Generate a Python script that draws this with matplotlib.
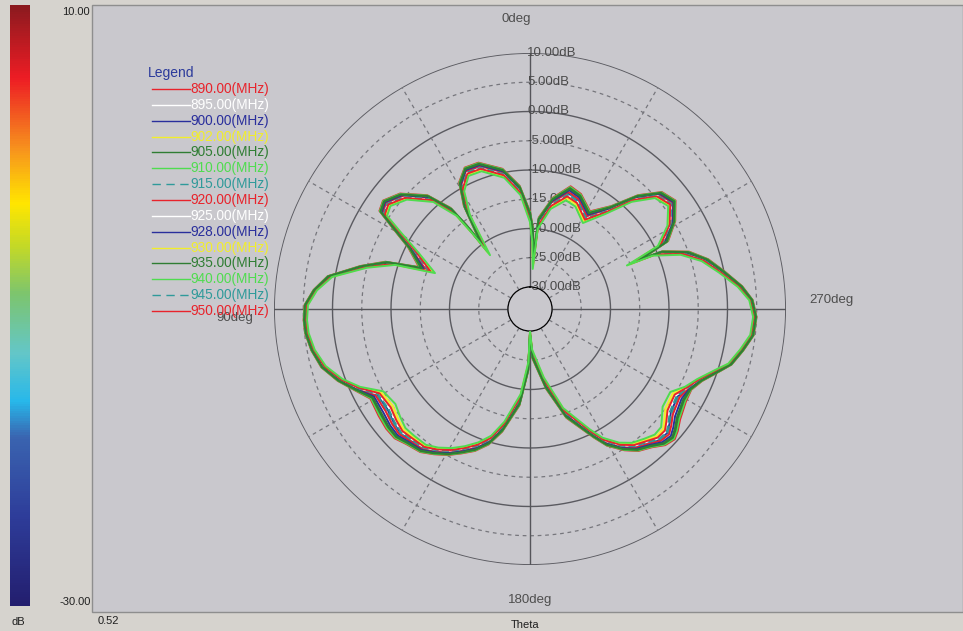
import numpy as np
import matplotlib
matplotlib.use("Agg")
import matplotlib.pyplot as plt
from matplotlib.colors import LinearSegmentedColormap, Normalize
from matplotlib.cm import ScalarMappable
from matplotlib.patches import Rectangle

plt.rcParams['font.family'] = ['Liberation Sans', 'DejaVu Sans']

# pattern: angle (deg, ccw from top) and gain of the middle trace (dB)
theta_deg = [0.0, 4.8, 11.1, 19.4, 24.8, 29.2, 32.6, 36.6, 37.2, 38.2, 42.1, 48.4, 53.6,
             56.9, 59.4, 63.2, 69.3, 71.9, 75.8, 80.8, 85.0, 89.0, 92.8, 96.2, 100.7,
             105.6, 110.5, 114.6, 119.3, 125.2, 129.8, 133.7, 137.5, 142.5, 146.5, 150.7,
             154.6, 158.8, 163.0, 167.2, 173.7, 178.3, 180.0, 183.0, 191.4, 198.5, 206.4,
             209.4, 213.7, 217.3, 221.4, 224.8, 228.0, 230.4, 233.6, 239.4, 243.4, 247.3,
             252.0, 254.6, 259.0, 263.3, 268.0, 272.3, 276.1, 280.9, 285.6, 289.8, 293.5,
             294.2, 296.2, 301.2, 306.7, 311.6, 316.5, 321.7, 328.4, 336.1, 341.7, 348.4,
             354.5, 356.1, 358.0]
gain_db = [-18.0, -13.4, -10.1, -8.0, -7.9, -9.8, -13.7, -20.8, -16.8, -12.6, -8.3, -4.8, -3.3,
           -3.8, -7.3, -11.4, -14.9, -8.6, -4.4, 0.9, 3.1, 4.5, 4.7, 4.6, 4.0,
           2.9, 0.9, -1.2, -3.7, -3.8, -3.3, -3.0, -3.4, -3.7, -4.65, -5.8,
           -7.1, -8.5, -10.3, -13.1, -18.1, -23.9, -29.6, -26.0, -20.8, -15.0, -10.0,
           -7.7, -5.5, -4.1, -3.2, -2.2, -2.0, -2.7, -3.7, -4.3, -3.5, -2.3,
           0.1, 1.7, 3.1, 4.45, 4.7, 4.05, 2.35, -0.35, -2.7, -5.6, -9.9,
           -14.1, -8.4, -5.5, -3.5, -4.4, -7.7, -12.2, -15.3, -13.4, -12.9, -15.3,
           -19.0, -25.4, -21.0]
# how far the traces fan out around the middle one at each angle (dB)
spread_db = [0.9, 0.8, 0.8, 0.8, 0.8, 0.9, 1.0, 1.5, 1.2, 0.9, 0.8, 0.8, 0.8,
             0.8, 0.9, 1.0, 1.5, 0.9, 0.6, 0.4, 0.3, 0.3, 0.3, 0.3, 0.3,
             0.4, 0.45, 0.6, 1.3, 1.8, 1.6, 1.3, 1.0, 0.8, 0.7, 0.7,
             0.7, 0.8, 0.8, 0.9, 1.0, 0.8, 0.3, 0.8, 1.0, 0.9, 0.8,
             0.8, 0.8, 0.9, 1.0, 1.3, 1.6, 1.8, 1.9, 1.6, 0.6, 0.45,
             0.4, 0.3, 0.3, 0.3, 0.3, 0.3, 0.4, 0.5, 0.6, 0.8, 1.0,
             1.5, 1.0, 0.8, 0.8, 0.8, 0.8, 0.9, 1.2, 1.2, 1.3, 1.0,
             1.0, 1.5, 1.3]

freqs = ['890.00', '895.00', '900.00', '902.00', '905.00', '910.00', '915.00', '920.00',
         '925.00', '928.00', '930.00', '935.00', '940.00', '945.00', '950.00']
# where each trace sits inside the fan (-1 inner .. 1 outer)
freq_shift = [0.95, 0.3, -0.1, -0.5, 0.6, 0.85, 0.0, 0.15, -0.3, 0.4, -0.7, 0.7, -1.0, -0.2, -0.45]
line_colors = ['#e8232b', '#ffffff', '#2a2f9c', '#f2ee2a', '#2f7d33', '#4fdc4f', '#2f9a9a',
               '#e8232b', '#ffffff', '#2a2f9c', '#f2ee2a', '#2f7d33', '#4fdc4f', '#2f9a9a',
               '#e8232b']
dashed = [False] * 6 + [True] + [False] * 6 + [True] + [False]

ring_db = [10, 5, 0, -5, -10, -15, -20, -25, -30]

W, H = 963, 631
fig = plt.figure(figsize=(W / 100, H / 100), dpi=100, facecolor='#d6d3ce')

# window background, drawn in pixel units
bg = fig.add_axes([0, 0, 1, 1])
bg.set_xlim(0, W)
bg.set_ylim(H, 0)
bg.axis('off')
bg.add_patch(Rectangle((92, 5), W - 92, 607, fc='#c9c8cd', ec='#8e8e8e', lw=1))
bg.text(62, 12, '10.00', fontsize=8, va='center', color='#202020')
bg.text(59, 602, '-30.00', fontsize=8, va='center', color='#202020')
bg.text(12, 622, 'dB', fontsize=8, va='center', color='#202020')
bg.text(98, 621, '0.52', fontsize=8, va='center', color='#202020')
bg.text(525, 625, 'Theta', fontsize=8, ha='center', va='center', color='#202020')
deg_kw = dict(fontsize=9.5, va='center', color='#4e4e4e')
bg.text(516, 19, '0deg', ha='center', **deg_kw)
bg.text(809, 300, '270deg', **deg_kw)
bg.text(216, 318, '90deg', **deg_kw)
bg.text(530, 600, '180deg', ha='center', **deg_kw)

# colour scale on the left
cmap = LinearSegmentedColormap.from_list('scale', [
    (0.0, '#231e6e'), (0.15, '#2e3d9a'), (0.28, '#3a64b0'), (0.34, '#27b8ea'),
    (0.42, '#63c6c8'), (0.52, '#7dc56d'), (0.60, '#c4d926'), (0.67, '#ffe600'),
    (0.76, '#f7941d'), (0.88, '#ed1c24'), (1.0, '#8b1a1f')])
cax = fig.add_axes([10 / W, (H - 606) / H, 20 / W, 601 / H])
cb = fig.colorbar(ScalarMappable(Normalize(-30, 10), cmap), cax=cax)
cb.set_ticks([])
cb.outline.set_visible(False)

# polar pattern: centre (530, 309) px, 10 dB ring at 256 px, -30 dB ring at 22 px
R = 256
ax = fig.add_axes([(530 - R) / W, (H - 309 - R) / H, 2 * R / W, 2 * R / H], projection='polar')
ax.set_facecolor('none')
ax.set_theta_zero_location('N')
ax.set_theta_direction(1)
ax.set_ylim(-30, 10)
ax.set_rorigin(-30 - 22 / ((R - 22) / 40))
ax.set_xticks([])
ax.set_yticks([])
ax.grid(False)
ax.spines['polar'].set_visible(False)

circ = np.linspace(0, 2 * np.pi, 721)
for v in ring_db:
    if v % 10 == 0:
        ax.plot(circ, np.full_like(circ, v), color='#5a5a60', lw=1.3 if v == 10 else 1.0, zorder=1)
    else:
        ax.plot(circ, np.full_like(circ, v), color='#76767c', lw=0.9, ls=(0, (3, 3)), zorder=1)
for a in range(0, 360, 30):
    t = np.radians(a)
    if a % 90 == 0:
        ax.plot([t, t], [-30, 10], color='#55555a', lw=1.0, zorder=1)
    else:
        ax.plot([t, t], [-30, 10], color='#76767c', lw=0.9, ls=(0, (3, 3)), zorder=1)
for v in ring_db:
    ax.annotate('%.2fdB' % v, xy=(0, v), xytext=(-3, 0), textcoords='offset pixels',
                ha='left', va='center', fontsize=9.5, color='#4a4a4a', zorder=2)

th = np.radians(np.append(theta_deg, theta_deg[0] + 360))
base = np.append(gain_db, gain_db[0])
spr = np.append(spread_db, spread_db[0])
for f, k, c, d in zip(freqs, freq_shift, line_colors, dashed):
    vals = np.clip(base + k * spr, -30, 10)
    z = 4 if c in ('#2f7d33', '#4fdc4f') else 3   # green traces sit on top in the original
    ax.plot(th, vals, color=c, lw=1.4, ls='--' if d else '-', zorder=z)

# legend, one row per frequency
bg.text(148, 73, 'Legend', fontsize=10, va='center', color='#2b3a9b')
for i, (f, c, d) in enumerate(zip(freqs, line_colors, dashed)):
    y = 89 + 15.86 * i
    bg.plot([152, 190], [y, y], color=c, lw=1.0, ls=(0, (6, 4)) if d else '-')
    bg.text(190, y, f + '(MHz)', fontsize=9.8, va='center', color=c)

fig.savefig('out.png', dpi=100, facecolor=fig.get_facecolor())
